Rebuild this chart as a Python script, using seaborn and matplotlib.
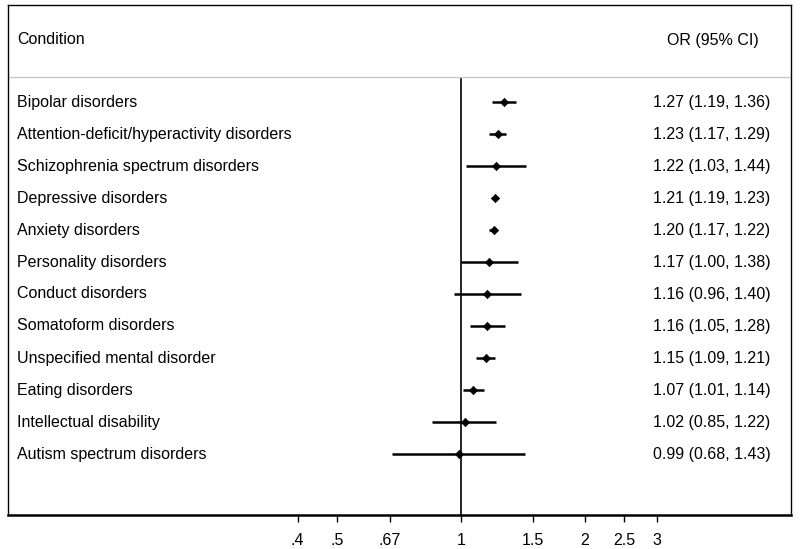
import numpy as np
import pandas as pd
import matplotlib
matplotlib.use("Agg")
import matplotlib.pyplot as plt
from matplotlib.transforms import blended_transform_factory
import seaborn as sns

# Data
conditions = [
    "Bipolar disorders",
    "Attention-deficit/hyperactivity disorders",
    "Schizophrenia spectrum disorders",
    "Depressive disorders",
    "Anxiety disorders",
    "Personality disorders",
    "Conduct disorders",
    "Somatoform disorders",
    "Unspecified mental disorder",
    "Eating disorders",
    "Intellectual disability",
    "Autism spectrum disorders",
]
odds_ratio = [1.27, 1.23, 1.22, 1.21, 1.20, 1.17, 1.16, 1.16, 1.15, 1.07, 1.02, 0.99]
ci_low = [1.19, 1.17, 1.03, 1.19, 1.17, 1.00, 0.96, 1.05, 1.09, 1.01, 0.85, 0.68]
ci_high = [1.36, 1.29, 1.44, 1.23, 1.22, 1.38, 1.40, 1.28, 1.21, 1.14, 1.22, 1.43]
tick_values = [0.4, 0.5, 0.67, 1, 1.5, 2, 2.5, 3]
tick_labels = [".4", ".5", ".67", "1", "1.5", "2", "2.5", "3"]

df = pd.DataFrame({"condition": conditions, "or": odds_ratio,
                   "lo": ci_low, "hi": ci_high})
df["row"] = np.arange(len(df))

sns.set_theme(style="white")
plt.rcParams["font.family"] = ["Liberation Sans", "DejaVu Sans"]

W, H = 800, 549
fig = plt.figure(figsize=(W / 100, H / 100), dpi=100)
left_px, right_px, top_px, bottom_px = 8, 791, 5, 515
ax = fig.add_axes([left_px / W, 1 - bottom_px / H,
                   (right_px - left_px) / W, (bottom_px - top_px) / H])

# log x scale: 1 at px 461, 3 at px 657
ppl = (657 - 461) / np.log(3)
ax.set_xscale("log")
ax.set_xlim(np.exp(-(461 - left_px) / ppl), np.exp((right_px - 461) / ppl))

# rows are 32 px apart, first row at px 102
row_h = 32
y_top = (top_px - 102) / row_h
y_bot = (bottom_px - 102) / row_h
ax.set_ylim(y_bot, y_top)
header_y = (40 - 102) / row_h
line_y = (77 - 102) / row_h

ax.hlines(df["row"], df["lo"], df["hi"], color="black", lw=1.8, zorder=2)
sns.scatterplot(data=df, x="or", y="row", marker="D", color="black",
                s=18, edgecolor="black", linewidth=0.5, ax=ax, zorder=3)

ax.vlines(1, line_y, y_bot, color="black", lw=1.2, zorder=1)
ax.axhline(line_y, color="#c8c8c8", lw=1.0, zorder=1)

fs = 11.5
bt = blended_transform_factory(ax.transAxes, ax.transData)
lab_x = (17 - left_px) / (right_px - left_px)
num_x = (653 - left_px) / (right_px - left_px)
hdr_x = (667 - left_px) / (right_px - left_px)
ax.text(lab_x, header_y, "Condition", transform=bt, ha="left", va="center",
        fontsize=fs, color="black")
ax.text(hdr_x, header_y, "OR (95% CI)", transform=bt, ha="left", va="center",
        fontsize=fs, color="black")
for _, r in df.iterrows():
    ax.text(lab_x, r["row"], r["condition"], transform=bt, ha="left",
            va="center", fontsize=fs, color="black")
    ax.text(num_x, r["row"], f"{r['or']:.2f} ({r['lo']:.2f}, {r['hi']:.2f})",
            transform=bt, ha="left", va="center", fontsize=fs, color="black")

ax.set_xticks(tick_values)
ax.set_xticklabels(tick_labels, fontsize=fs, color="black")
ax.xaxis.set_minor_locator(matplotlib.ticker.NullLocator())
ax.tick_params(axis="x", bottom=True, length=5, width=1, color="black", pad=8)
ax.set_yticks([])
ax.set_xlabel("")
ax.set_ylabel("")

for side in ["top", "left", "right"]:
    ax.spines[side].set_color("black")
    ax.spines[side].set_linewidth(1.0)
ax.spines["bottom"].set_color("black")
ax.spines["bottom"].set_linewidth(1.8)

fig.savefig("out.png", dpi=100, facecolor="white")
